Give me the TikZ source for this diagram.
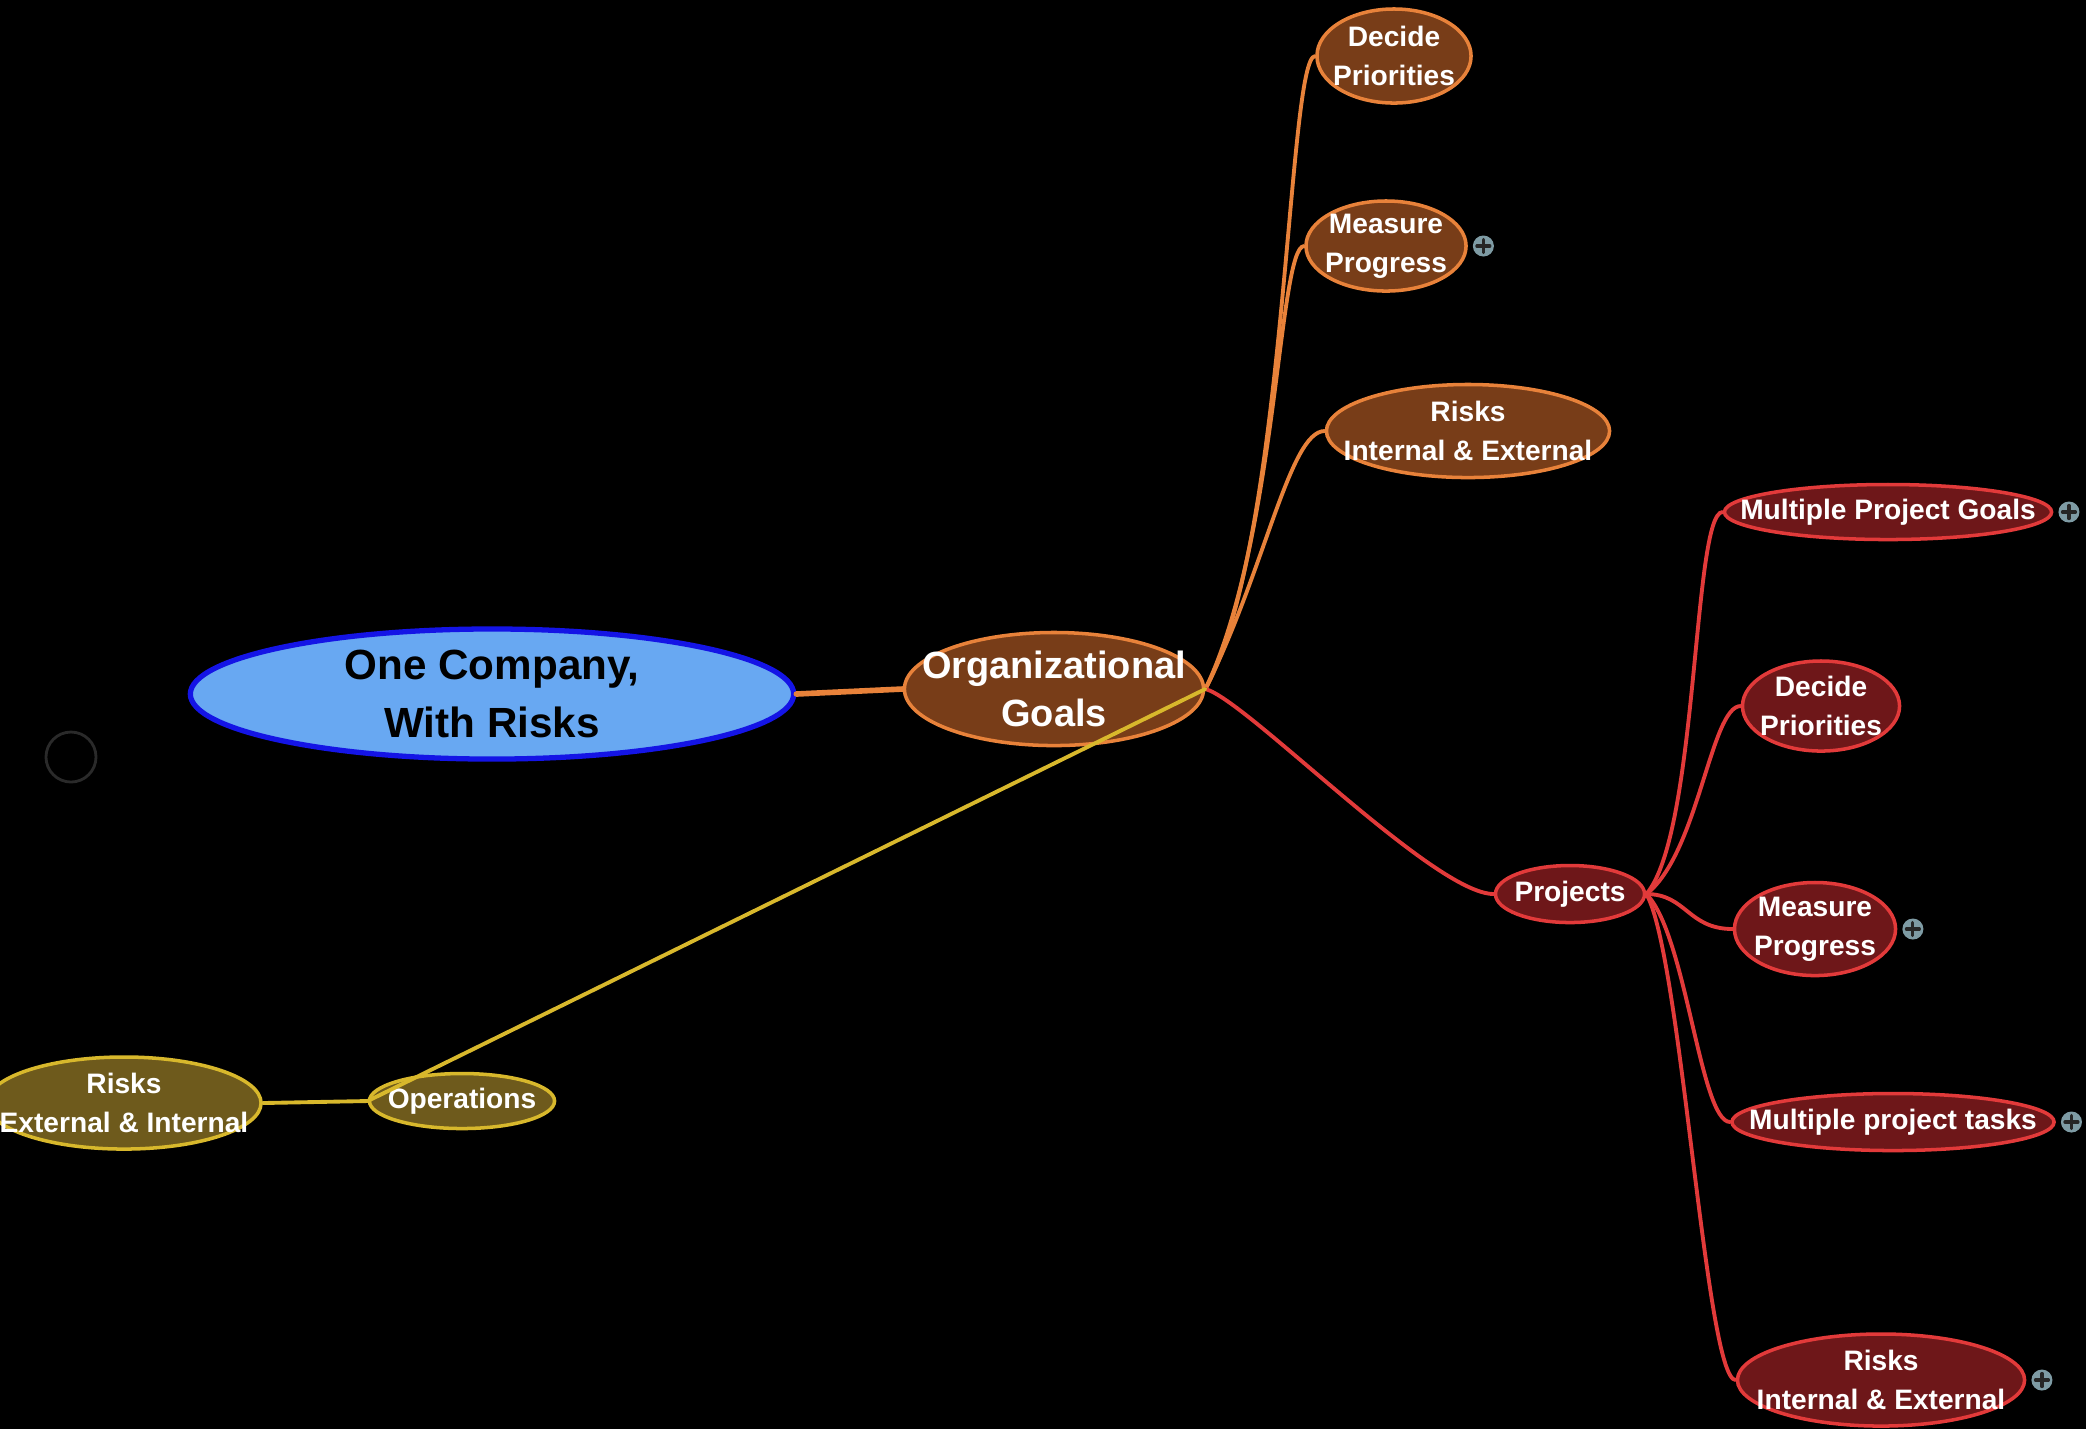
\documentclass[tikz,border=0pt]{standalone}
\usepackage{fontspec}
\setmainfont{Liberation Sans}
\usepackage{tikz}
\usetikzlibrary{shapes.geometric, positioning}

\definecolor{rootfill}{HTML}{68A8F2}
\definecolor{rootline}{HTML}{1414E6}
\definecolor{goalfill}{HTML}{783D18}
\definecolor{goalline}{HTML}{E8823A}
\definecolor{projfill}{HTML}{6E1719}
\definecolor{projline}{HTML}{E23A3A}
\definecolor{opsfill}{HTML}{6E5A1C}
\definecolor{opsline}{HTML}{D8B82C}
\definecolor{plusgray}{HTML}{7E9BA4}
\definecolor{ghost}{HTML}{2A2A2A}

\begin{document}
\begin{tikzpicture}[
            x = 0.01cm, % one unit per pixel
            y = -0.01cm, % y runs downwards
            line cap = round,
            semithick % line style
        ]

        \tikzstyle{topic}=[
            ellipse,
            draw,
            line width = 1pt,
            inner sep = -2cm, % let minimum size set the ellipse
            align = center,
            text = white,
            font = \fontsize{8}{11}\selectfont\bfseries
        ]
        \tikzstyle{goal}=[topic, fill = goalfill, draw = goalline]
        \tikzstyle{proj}=[topic, fill = projfill, draw = projline]
        \tikzstyle{ops}=[topic, fill = opsfill, draw = opsline]
        \tikzstyle{expander}=[
            circle,
            fill = plusgray,
            inner sep = 0pt,
            minimum size = 0.21cm,
            path picture = {
                \draw[line width = 0.9pt, black!85]
                    ([xshift=-0.065cm]path picture bounding box.center) -- ([xshift=0.065cm]path picture bounding box.center)
                    ([yshift=-0.065cm]path picture bounding box.center) -- ([yshift=0.065cm]path picture bounding box.center);
            }
        ]
        \tikzstyle{goalwire}=[draw = goalline, line width = 1.1pt]
        \tikzstyle{projwire}=[draw = projline, line width = 1.1pt]
        \tikzstyle{opswire}=[draw = opsline, line width = 1.1pt]

        \clip (0,0) rectangle (2086,1429);
        \fill[black] (0,0) rectangle (2086,1429);
        \draw[ghost, line width = 0.8pt] (71,757) circle[radius = 0.25cm];

        % central topic
        \node[topic, fill = rootfill, draw = rootline, line width = 1.5pt, text = black,
              minimum width = 6.03cm, minimum height = 1.3cm,
              font = \fontsize{12}{16.5}\selectfont\bfseries] (company) at (492,694) {One Company,\\With Risks};

        \node[goal, minimum width = 2.99cm, minimum height = 1.13cm,
              font = \fontsize{10.8}{13.6}\selectfont\bfseries] (goals) at (1054,689) {Organizational\\Goals};

        % goals branch
        \node[goal, minimum width = 1.54cm, minimum height = 0.94cm] (gdecide) at (1394,56) {Decide\\Priorities};
        \node[goal, minimum width = 1.60cm, minimum height = 0.90cm] (gmeasure) at (1386,246) {Measure\\Progress};
        \node[goal, minimum width = 2.83cm, minimum height = 0.93cm] (grisks) at (1468,431) {Risks\\Internal \& External};

        % projects branch
        \node[proj, minimum width = 1.49cm, minimum height = 0.57cm] (projects) at (1570,894) {Projects};
        \node[proj, minimum width = 3.27cm, minimum height = 0.55cm] (pgoals) at (1888,512) {Multiple Project Goals};
        \node[proj, minimum width = 1.57cm, minimum height = 0.90cm] (pdecide) at (1821,706) {Decide\\Priorities};
        \node[proj, minimum width = 1.61cm, minimum height = 0.93cm] (pmeasure) at (1815,929) {Measure\\Progress};
        \node[proj, minimum width = 3.22cm, minimum height = 0.57cm] (ptasks) at (1893,1122) {Multiple project tasks};
        \node[proj, minimum width = 2.87cm, minimum height = 0.92cm] (prisks) at (1881,1380) {Risks\\Internal \& External};

        % operations branch
        \node[ops, minimum width = 1.85cm, minimum height = 0.55cm] (operations) at (462,1101) {Operations};
        \node[ops, minimum width = 2.74cm, minimum height = 0.92cm] (opsrisks) at (124,1103) {Risks\\External \& Internal};

        % collapsed children
        \node[expander, right = 0.04cm of gmeasure] (gmeasureplus) {};
        \node[expander, right = 0.04cm of pgoals] (pgoalsplus) {};
        \node[expander, right = 0.04cm of pmeasure] (pmeasureplus) {};
        \node[expander, right = 0.04cm of ptasks] (ptasksplus) {};
        \node[expander, right = 0.04cm of prisks] (prisksplus) {};

        \draw[goalline, line width = 1.6pt] (company.east) -- (goals.west);

        \draw[goalwire] (goals.east) .. controls +(82,-150) and +(-28,0) .. (gdecide.west);
        \draw[goalwire] (goals.east) .. controls +(72,-150) and +(-26,0) .. (gmeasure.west);
        \draw[goalwire] (goals.east) .. controls +(60,-120) and +(-35,0) .. (grisks.west);
        \draw[projwire] (goals.east) .. controls +(40,10) and +(-60,0) .. (projects.west);
        \draw[opswire] (goals.east) -- (operations.west);
        \draw[opswire] (operations.west) -- (opsrisks.east);

        \draw[projwire] (projects.east) .. controls +(52,-60) and +(-30,0) .. (pgoals.west);
        \draw[projwire] (projects.east) .. controls +(52,-40) and +(-30,0) .. (pdecide.west);
        \draw[projwire] (projects.east) .. controls +(40,0) and +(-45,0) .. (pmeasure.west);
        \draw[projwire] (projects.east) .. controls +(40,40) and +(-30,0) .. (ptasks.west);
        \draw[projwire] (projects.east) .. controls +(35,60) and +(-30,0) .. (prisks.west);

  \end{tikzpicture}
\end{document}
